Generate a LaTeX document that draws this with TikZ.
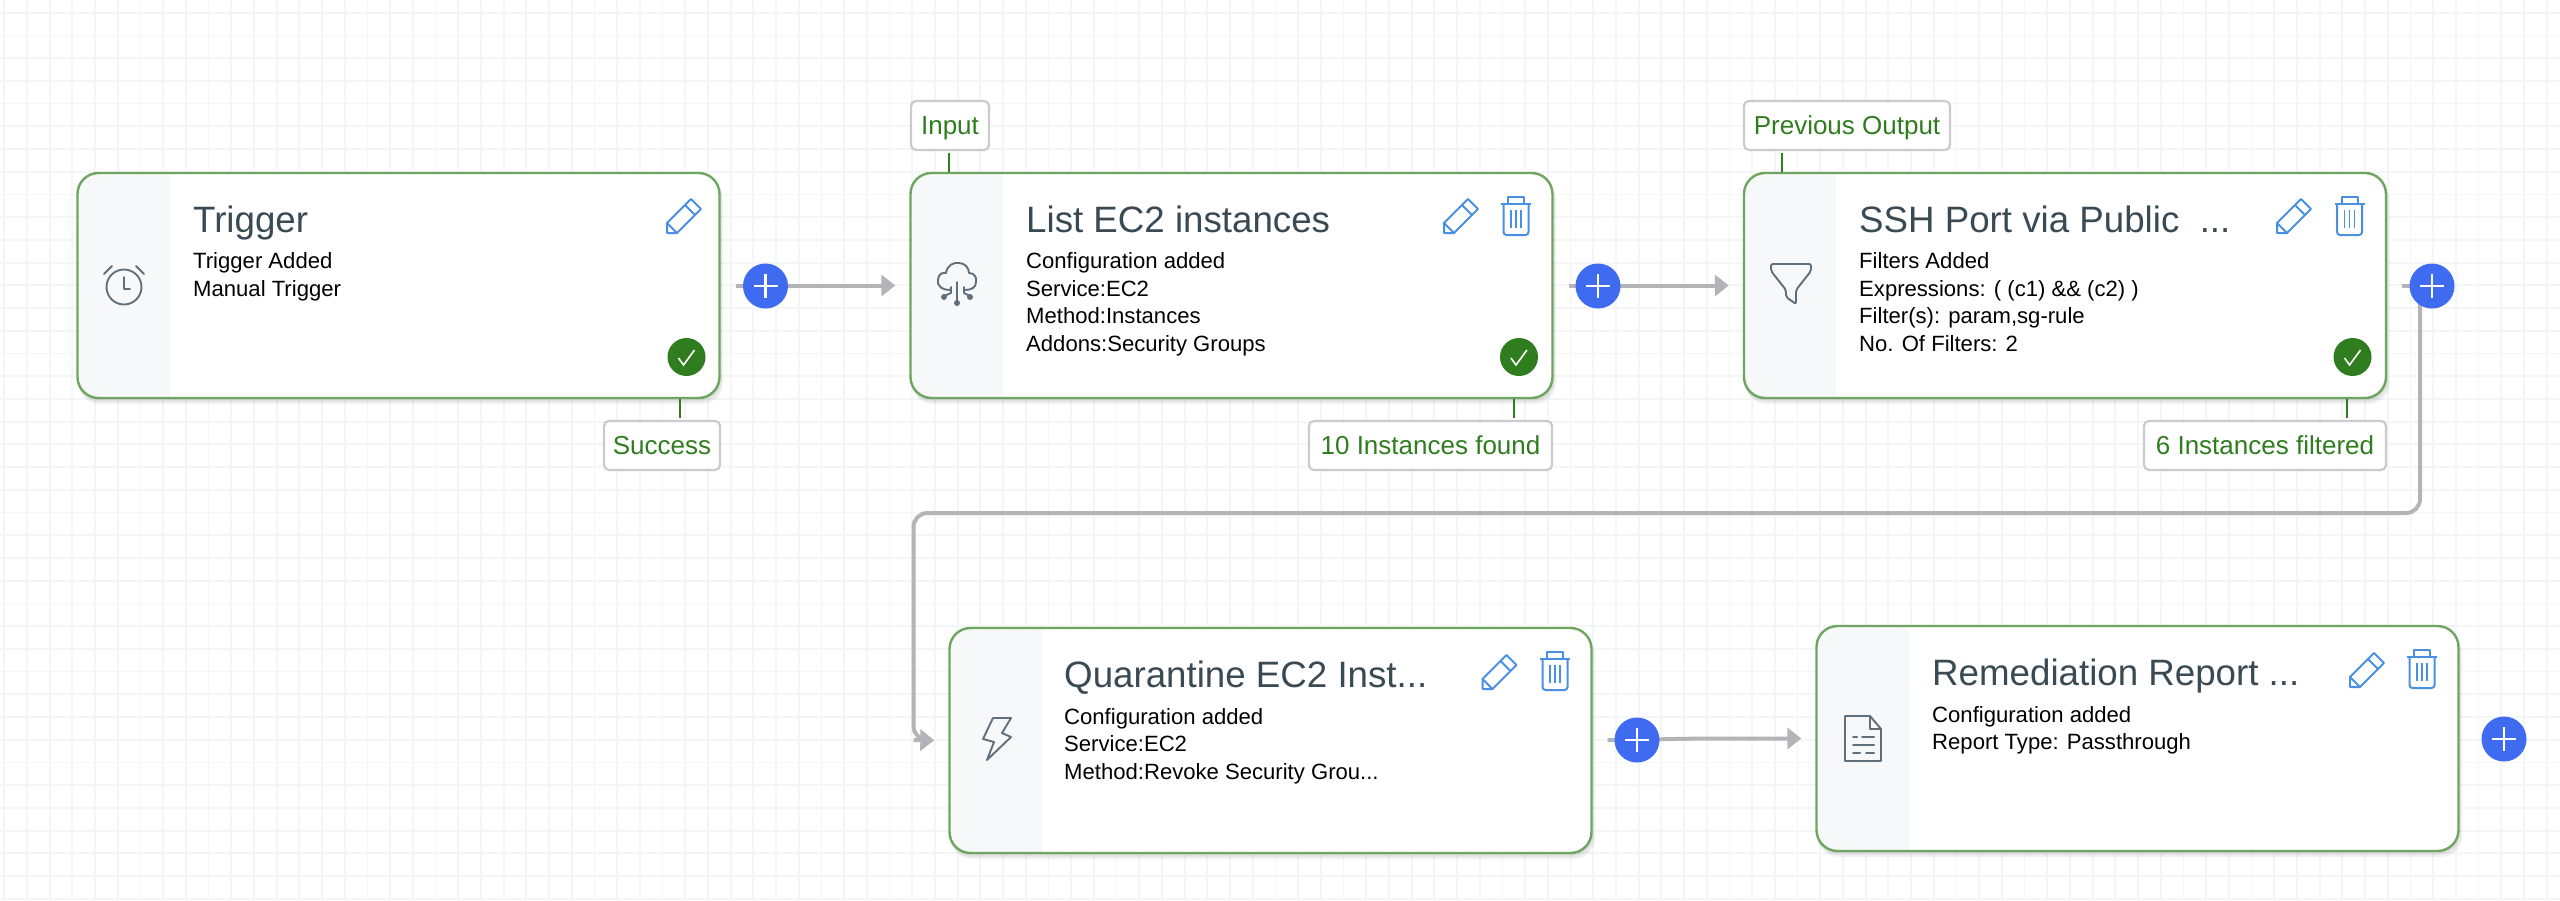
\documentclass[tikz,border=0pt]{standalone}
\usepackage{fontspec}
\setmainfont{Liberation Sans}
\usetikzlibrary{arrows.meta}
\definecolor{gridc}{HTML}{F3F5F7}
\definecolor{cardb}{HTML}{6FA65F}
\definecolor{railc}{HTML}{F7F8FA}
\definecolor{titlec}{HTML}{3A4A54}
\definecolor{iconc}{HTML}{5F6F7C}
\definecolor{okc}{HTML}{2F7D1F}
\definecolor{plusc}{HTML}{3F6BF0}
\definecolor{penc}{HTML}{4A90E2}
\definecolor{connc}{HTML}{B4B4B8}
\definecolor{lblb}{HTML}{CBCBCB}
\tikzset{
  x=1pt,y=-1pt,
  card/.style={draw=cardb,line width=2.4pt,fill=white,rounded corners=21pt,minimum width=642pt,minimum height=225pt,inner sep=0pt,
    path picture={\fill[railc,sharp corners] (path picture bounding box.north west) rectangle ([xshift=92pt]path picture bounding box.south west);}},
  shade1/.style={fill=black,opacity=.05,rounded corners=21pt},
  title/.style={anchor=base west,inner sep=0pt,text=titlec,font=\fontsize{36.7}{38}\selectfont},
  body/.style={anchor=base west,inner sep=0pt,text=black,align=left,font=\fontsize{22.1}{27.5}\selectfont},
  lbl/.style={draw=lblb,line width=2.2pt,fill=white,rounded corners=5pt,text=okc,font=\fontsize{26}{26}\selectfont,minimum height=49pt,inner sep=0pt,text depth=0pt},
  stem/.style={draw=okc,line width=2.4pt},
  conn/.style={draw=connc,line width=4pt,-{Triangle[length=14pt,width=21pt]}},
  connplain/.style={draw=connc,line width=4pt},
  plus/.style={circle,fill=plusc,minimum size=45pt,inner sep=0pt,
    path picture={\draw[white,line width=2.6pt,sharp corners] (path picture bounding box.center) +(-12,0) -- +(12,0) +(0,-12) -- +(0,12);}},
  okdot/.style={circle,fill=okc,minimum size=38pt,inner sep=0pt,
    path picture={\draw[white,line width=1.6pt] ([shift={(-8,1)}]path picture bounding box.center) -- ++(5,7) -- ++(11,-15);}},
  ic/.style={draw=iconc,line width=1.9pt,line join=round,line cap=round,fill=none},
  ib/.style={draw=penc,line width=2pt,line join=round,fill=none},
  pencil/.pic={
    \draw[ib] (-17,17) -- (-17,7) -- (7,-17) -- (17,-7) -- (-7,17) -- cycle;
    \draw[ib] (-17,7) -- (-7,17) (1,-11) -- (11,-1);
  },
  trash/.pic={
    \draw[ib] (-15,-12) -- (15,-12);
    \draw[ib] (-8,-12) -- (-8,-19) -- (8,-19) -- (8,-12);
    \draw[ib,rounded corners=3pt] (-12.5,-12) -- (-12.5,19) -- (12.5,19) -- (12.5,-12);
    \draw[ib,line width=1.5pt] (-5,-6) -- (-5,12) (0,-6) -- (0,12) (5,-6) -- (5,12);
  },
  clockicon/.pic={
    \draw[ic] (0,1) circle (17.5);
    \draw[ic] (0,-9) -- (0,3) -- (6,3);
    \draw[ic] (-20,-12) -- (-12,-20) (20,-12) -- (12,-20);
  },
  cloudicon/.pic={
    \draw[ic] (-7,5) .. controls (-14,5) and (-20,2) .. (-19,-5) .. controls (-19,-11) and (-14,-13) .. (-11,-12)
      .. controls (-10,-20) and (-3,-23) .. (2,-22) .. controls (8,-22) and (12,-17) .. (12,-12)
      .. controls (17,-12) and (20,-8) .. (19,-3) .. controls (19,2) and (15,5) .. (8,5);
    \draw[ic] (0,-3) -- (0,17) (-6,2) -- (-6,8) -- (-13,11) (7,2) -- (7,8) -- (13,11);
    \fill[iconc] (0,18) circle (3) (-13,12) circle (3) (13,12) circle (3);
  },
  funnelicon/.pic={
    \draw[ic,rounded corners=2pt] (-20,-20) -- (20,-20) -- (20,-13) -- (5,6) -- (5,20) -- (-5,13) -- (-5,6) -- (-20,-13) -- cycle;
  },
  bolticon/.pic={
    \draw[ic] (-4,-21) -- (14,-21) -- (5,-6) -- (14,-2) -- (-10,21) -- (-3,3) -- (-14,0) -- cycle;
  },
  docicon/.pic={
    \draw[ic] (7,-22) -- (-18,-22) -- (-18,23) -- (18,23) -- (18,-9) -- cycle;
    \draw[ic] (7,-22) -- (7,-9) -- (18,-9);
    \draw[ic,line width=2pt] (-10,-1) -- (-6,-1) (-1,-1) -- (11,-1) (-10,7) -- (11,7) (-10,15) -- (-3,15) (3,15) -- (11,15);
  },
}
\begin{document}
\begin{tikzpicture}
\useasboundingbox (0,0) rectangle (2560,900);
\fill[white] (0,0) rectangle (2560,900);
\foreach \k in {0,...,112} {\draw[gridc,line width=1.8pt] ({4.2+22.7*\k},0) -- ++(0,900);}
\foreach \k in {0,...,39} {\draw[gridc,line width=1.8pt] (0,{12.7+22.72*\k}) -- ++(2560,0);}
% shadows
\foreach \cx/\cy in {398.5/285.5,1231.5/285.5,2065/285.5,1270.5/740.5,2137.5/738.5}{
  \foreach \d in {2,4,6}{
    \fill[shade1] ({\cx-321+\d*.2},{\cy-112+\d}) rectangle ({\cx+321+\d*.6},{\cy+112.5+\d});
  }
}
% cards
\node[card] (card1) at (398.5,285.5) {};
\node[card] (card2) at (1231.5,285.5) {};
\node[card] (card3) at (2065,285.5) {};
\node[card] (card4) at (1270.5,740.5) {};
\node[card] (card5) at (2137.5,738.5) {};
% connectors
\coordinate (bendR) at (2420,513);
\coordinate (bendL) at (913.5,513);
\coordinate (drop) at (913.5,740);
\coordinate (jog) at (1702,739);
\draw[conn,shorten <=15pt,shorten >=14pt] (card1.east) -- (card2.west);
\draw[conn,shorten <=15pt,shorten >=14pt] (card2.east) -- (card3.west);
\draw[connplain,shorten <=15pt] (card3.east) -- (2432,285.5);
\draw[connplain,rounded corners=14pt] (2420,290) -- (bendR) -- (bendL) -- (drop) -- ++(6,0);
\draw[conn,shorten >=14pt] (drop) -- (card4.west);
\draw[conn,shorten <=15pt,shorten >=14pt] (card4.east) -- (jog |- card5.west) -- (card5.west);
% plus buttons
\node[plus] (p1) at (765.5,286) {};
\node[plus] (p2) at (1598,286) {};
\node[plus] (p3) at (2432,286) {};
\node[plus] (p4) at (1637,740) {};
\node[plus] (p5) at (2504,739) {};
% left icons
\pic at (124,286) {clockicon};
\pic at (957,285) {cloudicon};
\pic at (1791,284) {funnelicon};
\pic at (997,739) {bolticon};
\pic at (1863,738) {docicon};
% action icons
\pic at (684,216) {pencil};
\pic at (1461,216) {pencil};
\pic at (1516,216) {trash};
\pic at (2294,216) {pencil};
\pic at (2349.5,216) {trash};
\pic at (1499.5,672) {pencil};
\pic at (1555,671) {trash};
\pic at (2367,670) {pencil};
\pic at (2422,669) {trash};
% status
\node[okdot] (ok1) at (686.5,357) {};
\node[okdot] (ok2) at (1519,357) {};
\node[okdot] (ok3) at (2352.5,357) {};
% texts
\node[title] (t1) at (193,232) {Trigger};
\node[body] (b1) at (193,296) {Trigger Added\\Manual Trigger};
\node[title] (t2) at (1026,232) {List EC2 instances};
\node[body] (b2) at (1026,351) {Configuration added\\Service:EC2\\Method:Instances\\Addons:Security Groups};
\node[title] (t3) at (1859,232) {SSH Port via Public\ \ ...};
\node[body] (b3) at (1859,351) {Filters Added\\Expressions: ( (c1) \&\& (c2) )\\Filter(s): param,sg-rule\\No. Of Filters: 2};
\node[title] (t4) at (1064,687) {Quarantine EC2 Inst...};
\node[body] (b4) at (1064,779) {Configuration added\\Service:EC2\\Method:Revoke Security Grou...};
\node[title] (t5) at (1932,685) {Remediation Report ...};
\node[body] (b5) at (1932,749.5) {Configuration added\\Report Type: Passthrough};
% labels
\node[lbl,minimum width=116pt] (l1) at (662,445.5) {Success};
\node[lbl,minimum width=78pt] (l2) at (950,125.5) {Input};
\node[lbl,minimum width=243pt] (l3) at (1430.5,445.5) {10 Instances found};
\node[lbl,minimum width=206pt] (l4) at (1847,125.5) {Previous Output};
\node[lbl,minimum width=242pt] (l5) at (2265,445.5) {6 Instances filtered};
\coordinate (s1) at (680,418);
\coordinate (s2) at (949,153);
\coordinate (s3) at (1514,418);
\coordinate (s4) at (1782,153);
\coordinate (s5) at (2347,418);
\draw[stem] (s1) -- (s1 |- card1.south);
\draw[stem] (s2) -- (s2 |- card2.north);
\draw[stem] (s3) -- (s3 |- card2.south);
\draw[stem] (s4) -- (s4 |- card3.north);
\draw[stem] (s5) -- (s5 |- card3.south);
\end{tikzpicture}
\end{document}
